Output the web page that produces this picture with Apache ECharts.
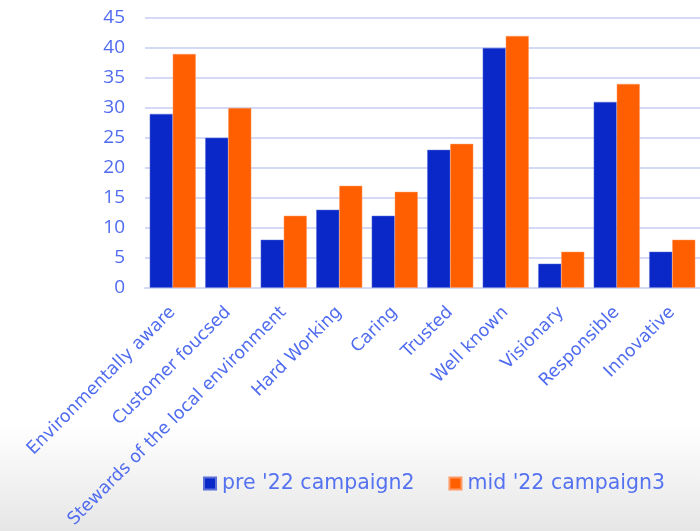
<!DOCTYPE html>
<html>
<head>
<meta charset="utf-8">
<script src="https://cdn.jsdelivr.net/npm/echarts@6/dist/echarts.min.js"></script>
<style>
  html, body { margin: 0; padding: 0; background: #fff; }
  #chart { width: 700px; height: 531px; }
</style>
</head>
<body>
<div id="chart"></div>
<script>
// Brand attribute ratings before and during the 2022 campaign
const categories = [
  'Environmentally aware', 'Customer foucsed', 'Stewards of the local environment',
  'Hard Working', 'Caring', 'Trusted', 'Well known', 'Visionary', 'Responsible', 'Innovative'
];
const preCampaign = [29, 25, 8, 13, 12, 23, 40, 4, 31, 6];
const midCampaign = [39, 30, 12, 17, 16, 24, 42, 6, 34, 8];
const seriesNames = ["pre '22 campaign2", "mid '22 campaign3"];
const yTicks = { min: 0, max: 45, step: 5 };

const textColor = '#4f6bef';
const wideFont = '"DejaVu Sans", "Noto Sans", sans-serif';
const numFont = '"Open Sans", "Noto Sans", sans-serif';

const chart = echarts.init(document.getElementById('chart'));
chart.setOption({
  animation: false,
  backgroundColor: '#ffffff',
  graphic: [{
    type: 'rect',
    left: 0, top: 425, z: -10,
    shape: { width: 700, height: 106 },
    style: {
      fill: new echarts.graphic.LinearGradient(0, 0, 0, 1, [
        { offset: 0, color: 'rgba(255,255,255,1)' },
        { offset: 1, color: '#e6e6e6' }
      ])
    },
    silent: true
  }],
  grid: { left: 145, top: 18, width: 556, height: 270, containLabel: false },
  legend: {
    data: seriesNames,
    left: 198, top: 468,
    itemWidth: 12, itemHeight: 12, itemGap: 34,
    icon: 'rect',
    textStyle: { color: '#5573f0', fontSize: 20.5, fontFamily: wideFont, padding: [0, 0, 0, 1] }
  },
  xAxis: {
    type: 'category',
    data: categories,
    axisLine: { show: true, lineStyle: { color: '#d3d9f6', width: 2 } },
    axisTick: { show: false },
    axisLabel: {
      rotate: 45, interval: 0, margin: 22,
      color: textColor, fontSize: 17.5, fontFamily: wideFont
    }
  },
  yAxis: {
    type: 'value',
    min: yTicks.min, max: yTicks.max, interval: yTicks.step,
    axisLine: { show: false },
    axisTick: { show: false },
    splitLine: { lineStyle: { color: '#d3d9f6', width: 2 } },
    axisLabel: { color: textColor, fontSize: 19, fontFamily: numFont, margin: 20 }
  },
  series: [
    {
      name: seriesNames[0], type: 'bar', data: preCampaign,
      barGap: '0%', barCategoryGap: '17%',
      itemStyle: { color: '#0a28c8', borderColor: '#5b6fd8', borderWidth: 0.5 }
    },
    {
      name: seriesNames[1], type: 'bar', data: midCampaign,
      itemStyle: { color: '#ff5f00', borderColor: '#ff9a66', borderWidth: 0.5 }
    }
  ]
});
</script>
</body>
</html>
